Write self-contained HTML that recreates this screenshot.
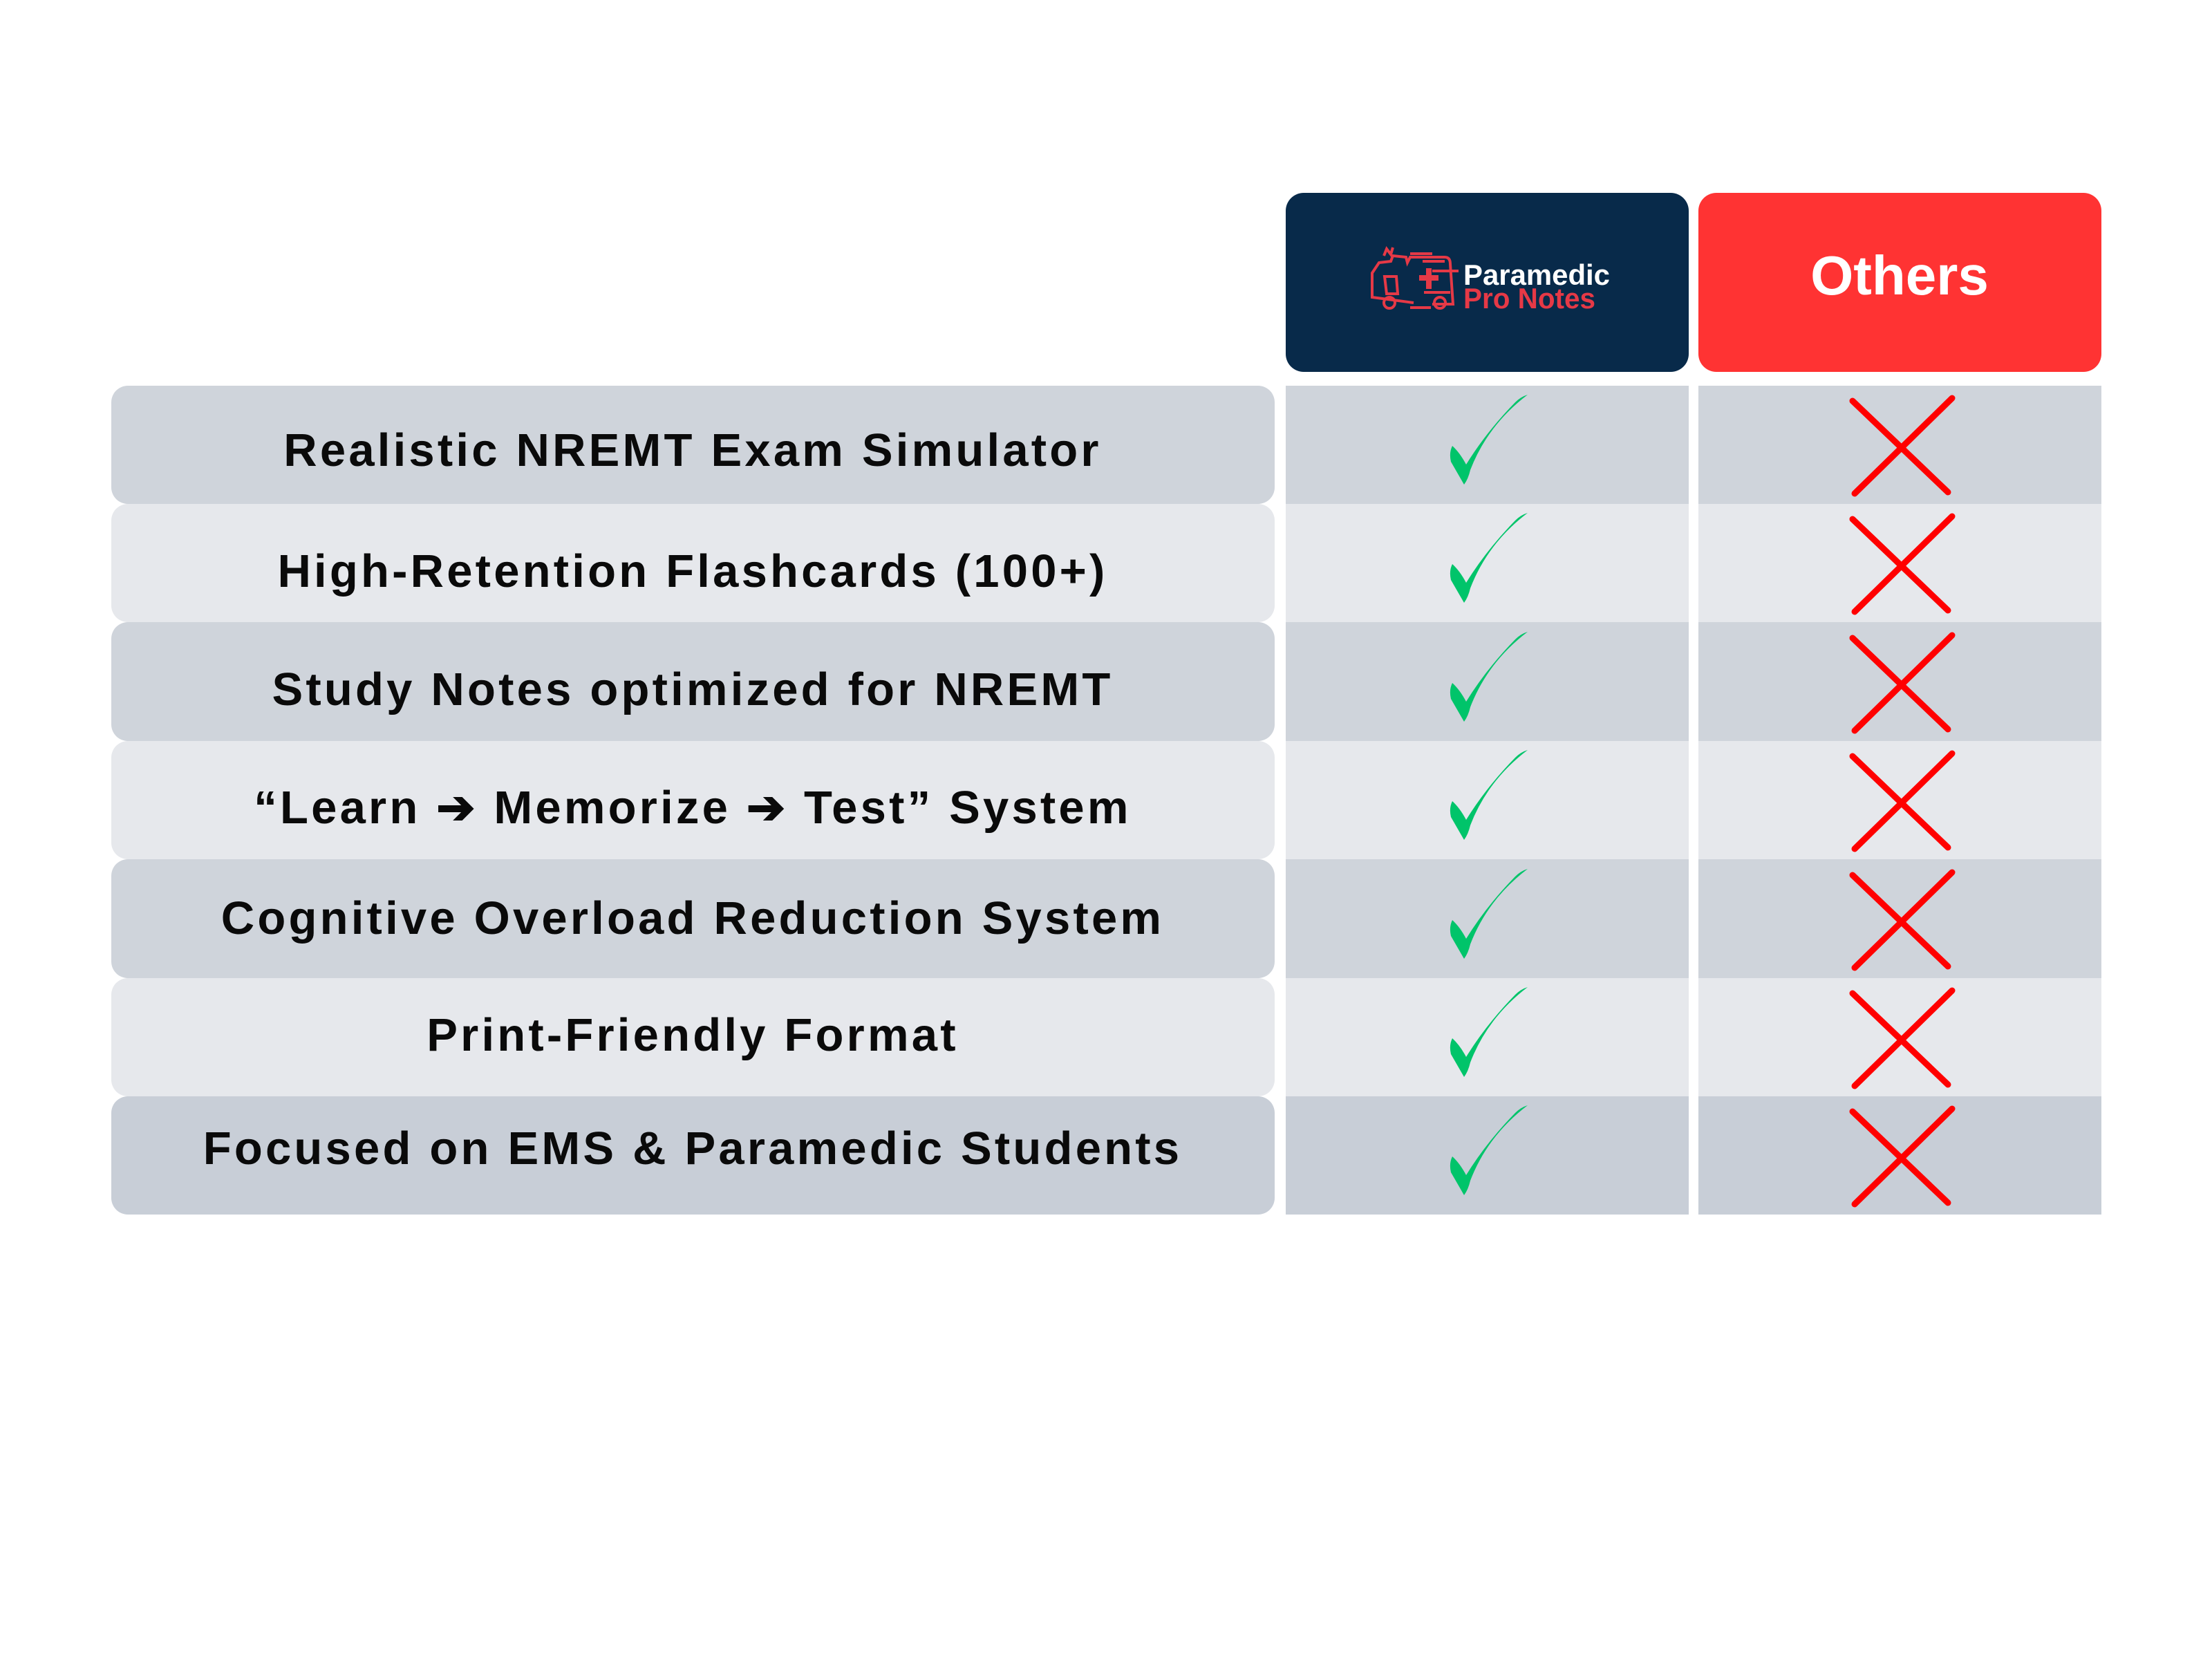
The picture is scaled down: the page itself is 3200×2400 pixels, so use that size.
<!DOCTYPE html>
<html><head><meta charset="utf-8"><style>
html,body{margin:0;padding:0;background:#fff;}
svg{display:block;}
.t{font-family:"Liberation Sans",sans-serif;font-weight:bold;font-size:67px;letter-spacing:4.2px;fill:#0a0a0a;}
</style></head><body>
<svg width="3200" height="2400" viewBox="0 0 3200 2400" xmlns="http://www.w3.org/2000/svg">
<rect width="3200" height="2400" fill="#fff"/>
<rect x="1860" y="279" width="583" height="259" rx="26" fill="#082a4a"/>
<rect x="2457" y="279" width="583" height="259" rx="26" fill="#ff3333"/>
<text x="2748" y="426" text-anchor="middle" font-family="Liberation Sans, sans-serif" font-weight="bold" font-size="80" fill="#fff">Others</text>
<g stroke="#e63946" stroke-width="4" fill="none">
<path d="M1985 420 L1985 395 L1995 380 L2012 378 L2015 370 L2034 372 L2036 380 L2040 372 L2090 372 Q2098 372 2098 382 L2102 440 L2072 440"/>
<path d="M1985 420 L1985 430 L2045 438"/>
<path d="M2003 400 L2020 400 L2022 425 L2006 425 Z"/>
<circle cx="2010" cy="438" r="8"/><circle cx="2083" cy="438" r="8"/>
<path d="M2040 367 L2072 367 M2058 378 L2090 378 M2040 445 L2070 445 M2060 423 L2098 423 M2072 392 L2110 392"/>
<path d="M2002 370 L2006 360 L2012 368 L2015 358"/>
</g>
<path d="M2053 398 h10 v-10 h8 v10 h10 v8 h-10 v12 h-8 v-12 h-10z" fill="#e63946"/>
<text x="2117" y="412" font-family="Liberation Sans, sans-serif" font-weight="bold" font-size="42" fill="#fff" textLength="212" lengthAdjust="spacingAndGlyphs">Paramedic</text>
<text x="2117" y="446" font-family="Liberation Sans, sans-serif" font-weight="bold" font-size="42" fill="#e63946" textLength="191" lengthAdjust="spacingAndGlyphs">Pro Notes</text>
<g>
<rect x="161" y="558" width="1683" height="171" rx="24" fill="#cfd4db"/>
<rect x="1860" y="558" width="583" height="171" fill="#cfd4db"/>
<rect x="2457" y="558" width="583" height="171" fill="#cfd4db"/>
<rect x="161" y="729" width="1683" height="171" rx="24" fill="#e6e8ec"/>
<rect x="1860" y="729" width="583" height="171" fill="#e6e8ec"/>
<rect x="2457" y="729" width="583" height="171" fill="#e6e8ec"/>
<rect x="161" y="900" width="1683" height="172" rx="24" fill="#cfd4db"/>
<rect x="1860" y="900" width="583" height="172" fill="#cfd4db"/>
<rect x="2457" y="900" width="583" height="172" fill="#cfd4db"/>
<rect x="161" y="1072" width="1683" height="171" rx="24" fill="#e6e8ec"/>
<rect x="1860" y="1072" width="583" height="171" fill="#e6e8ec"/>
<rect x="2457" y="1072" width="583" height="171" fill="#e6e8ec"/>
<rect x="161" y="1243" width="1683" height="172" rx="24" fill="#cfd4db"/>
<rect x="1860" y="1243" width="583" height="172" fill="#cfd4db"/>
<rect x="2457" y="1243" width="583" height="172" fill="#cfd4db"/>
<rect x="161" y="1415" width="1683" height="171" rx="24" fill="#e6e8ec"/>
<rect x="1860" y="1415" width="583" height="171" fill="#e6e8ec"/>
<rect x="2457" y="1415" width="583" height="171" fill="#e6e8ec"/>
<rect x="161" y="1586" width="1683" height="171" rx="24" fill="#c8ced7"/>
<rect x="1860" y="1586" width="583" height="171" fill="#c8ced7"/>
<rect x="2457" y="1586" width="583" height="171" fill="#c8ced7"/>
</g>
<g text-anchor="middle">
<text class="t" x="1002" y="674">Realistic NREMT Exam Simulator</text>
<text class="t" x="1002" y="849">High-Retention Flashcards (100+)</text>
<text class="t" x="1002" y="1020">Study Notes optimized for NREMT</text>
<text class="t" x="1002" y="1191">“Learn ➔ Memorize ➔ Test” System</text>
<text class="t" x="1002" y="1351">Cognitive Overload Reduction System</text>
<text class="t" x="1002" y="1520">Print-Friendly Format</text>
<text class="t" x="1002" y="1684">Focused on EMS &amp; Paramedic Students</text>
</g>
<defs>
<g id="ck"><path d="M2101 645 Q2096 655 2099 668 L2118 701 Q2124 693 2127 680 Q2152 615 2210 571 Q2200 574 2192 582 Q2150 625 2121 672 Q2112 655 2101 645 Z" fill="#00c46a"/></g>
<g id="cx" stroke="#ff0000" stroke-width="9" stroke-linecap="round"><path d="M2680 580 L2818 712"/><path d="M2824 576 L2683 714"/></g>
</defs>
<use href="#ck" y="0"/><use href="#ck" y="171"/><use href="#ck" y="343"/><use href="#ck" y="514"/><use href="#ck" y="686"/><use href="#ck" y="857"/><use href="#ck" y="1028"/>
<use href="#cx" y="0"/><use href="#cx" y="171"/><use href="#cx" y="343"/><use href="#cx" y="514"/><use href="#cx" y="686"/><use href="#cx" y="857"/><use href="#cx" y="1028"/>
</svg>
</body></html>
